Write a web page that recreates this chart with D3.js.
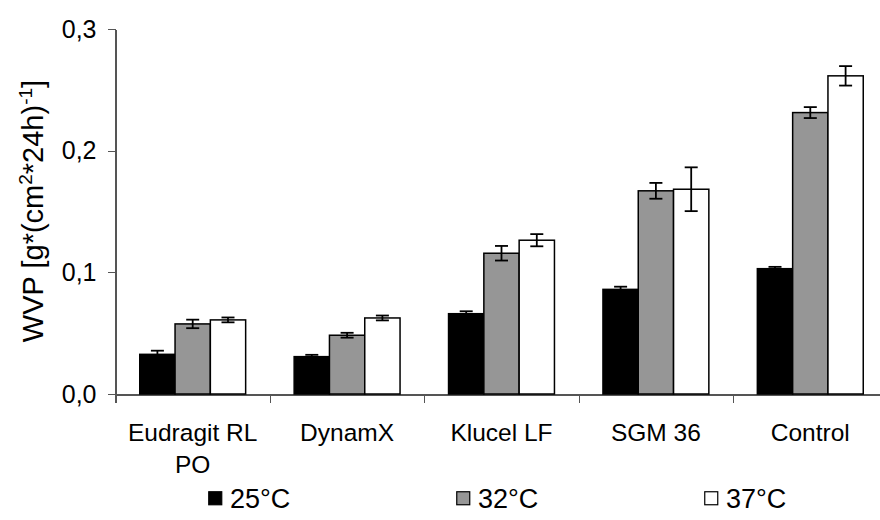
<!DOCTYPE html>
<html>
<head>
<meta charset="utf-8">
<title>WVP bar chart</title>
<script src="https://d3js.org/d3.v7.min.js"></script>
<style>
  body { margin: 0; background: #fff; }
  svg text { font-family: "Liberation Sans", Arial, sans-serif; fill: #000; }
  .axis path, .axis line { stroke: #555; stroke-width: 1.2; shape-rendering: crispEdges; }
  .axis text { font-size: 25px; }
  .cat_label { font-size: 24.5px; text-anchor: middle; }
  .legend_text { font-size: 27px; }
</style>
</head>
<body>
<div id="chart"></div>
<script>
// data
const categories = ["Eudragit RL PO", "DynamX", "Klucel LF", "SGM 36", "Control"];
const seriesNames = ["25°C", "32°C", "37°C"];
const seriesColors = ["#000000", "#969696", "#ffffff"];
const wvp25 = [0.0326, 0.0307, 0.0660, 0.0860, 0.1030];
const err25 = [0.0030, 0.0015, 0.0020, 0.0022, 0.0015];
const wvp32 = [0.0576, 0.0483, 0.1157, 0.1670, 0.2313];
const err32 = [0.0035, 0.0020, 0.0060, 0.0065, 0.0045];
const wvp37 = [0.0609, 0.0625, 0.1264, 0.1683, 0.2615];
const err37 = [0.0020, 0.0020, 0.0050, 0.0180, 0.0080];
const yTicks = [0, 0.1, 0.2, 0.3];

const values = [wvp25, wvp32, wvp37];
const errors = [err25, err32, err37];

const W = 880, H = 520;
const svg = d3.select("#chart").append("svg")
    .attr("width", W).attr("height", H);

// scales
const x = d3.scaleBand()
    .domain(categories)
    .range([115.5, 887.5])
    .paddingInner(0);

const xs = d3.scaleBand()
    .domain(seriesNames)
    .range([0, x.bandwidth()])
    .paddingInner(0)
    .paddingOuter(0.687);

const y = d3.scaleLinear()
    .domain([0, 0.3])
    .range([394, 29]);

// y axis
svg.append("g")
    .attr("class", "axis")
    .attr("transform", "translate(115.5,0)")
    .call(d3.axisLeft(y).tickValues(yTicks)
        .tickFormat(d => d3.format(".1f")(d).replace(".", ","))
        .tickSize(8).tickSizeOuter(0).tickPadding(11));

// x axis: ticks at category boundaries
const xb = d3.scaleLinear().domain([0, categories.length]).range(x.range());
svg.append("g")
    .attr("class", "axis")
    .attr("transform", "translate(0,394.5)")
    .call(d3.axisBottom(xb).tickValues(d3.range(categories.length + 1))
        .tickFormat("").tickSize(8).tickSizeOuter(0));

// bars
const flat = [];
categories.forEach((c, i) => {
  seriesNames.forEach((s, j) => {
    flat.push({cat: c, series: s, j: j, v: values[j][i], e: errors[j][i]});
  });
});

svg.selectAll(".bar")
    .data(flat)
    .enter()
    .append("rect")
        .attr("class", "bar")
        .attr("x", d => x(d.cat) + xs(d.series))
        .attr("y", d => y(d.v))
        .attr("width", xs.bandwidth())
        .attr("height", d => y(0) - y(d.v))
        .attr("fill", d => seriesColors[d.j])
        .attr("stroke", "#000")
        .attr("stroke-width", 1.5);

// error bars
const cap = 6.5;
const eb = svg.selectAll(".err")
    .data(flat)
    .enter()
    .append("g")
        .attr("class", "err")
        .attr("transform", d => `translate(${x(d.cat) + xs(d.series) + xs.bandwidth() / 2},0)`)
        .attr("stroke", "#000")
        .attr("stroke-width", 1.8);
eb.append("line")
    .attr("y1", d => y(d.v - d.e)).attr("y2", d => y(d.v + d.e));
eb.append("line")
    .attr("x1", -cap).attr("x2", cap)
    .attr("y1", d => y(d.v + d.e)).attr("y2", d => y(d.v + d.e));
eb.append("line")
    .attr("x1", -cap).attr("x2", cap)
    .attr("y1", d => y(d.v - d.e)).attr("y2", d => y(d.v - d.e));

// category labels, wrapped when wider than the band
const labels = svg.selectAll(".cat_label")
    .data(categories)
    .enter()
    .append("text")
        .attr("class", "cat_label")
        .attr("x", d => x(d) + x.bandwidth() / 2)
        .attr("y", 441);
labels.each(function(d) {
  const t = d3.select(this);
  t.text(d);
  if (this.getComputedTextLength() > x.bandwidth() * 0.92) {
    const words = d.split(" ");
    const last = words.pop();
    t.text(null);
    t.append("tspan").attr("x", x(d) + x.bandwidth() / 2).text(words.join(" "));
    t.append("tspan").attr("x", x(d) + x.bandwidth() / 2).attr("dy", 32).text(last);
  }
});

// y axis title
const yt = svg.append("text")
    .attr("transform", "translate(43,211) rotate(-90)")
    .attr("text-anchor", "middle")
    .style("font-size", "29px");
yt.append("tspan").text("WVP [g*(cm");
yt.append("tspan").attr("dy", -11).style("font-size", "19px").text("2");
yt.append("tspan").attr("dy", 11).text("*24h)");
yt.append("tspan").attr("dy", -11).style("font-size", "19px").text("-1");
yt.append("tspan").attr("dy", 11).text("]");

// legend
const legendX = [208, 456, 704];
const lg = svg.selectAll(".legend")
    .data(seriesNames)
    .enter()
    .append("g")
        .attr("class", "legend")
        .attr("transform", (d, i) => `translate(${legendX[i]},0)`);
lg.append("rect")
    .attr("x", 0.75).attr("y", 491.75)
    .attr("width", 13).attr("height", 13)
    .attr("fill", (d, i) => seriesColors[i])
    .attr("stroke", "#000").attr("stroke-width", 1.2);
lg.append("text")
    .attr("class", "legend_text")
    .attr("x", 22).attr("y", 508)
    .text(d => d);
</script>
</body>
</html>
